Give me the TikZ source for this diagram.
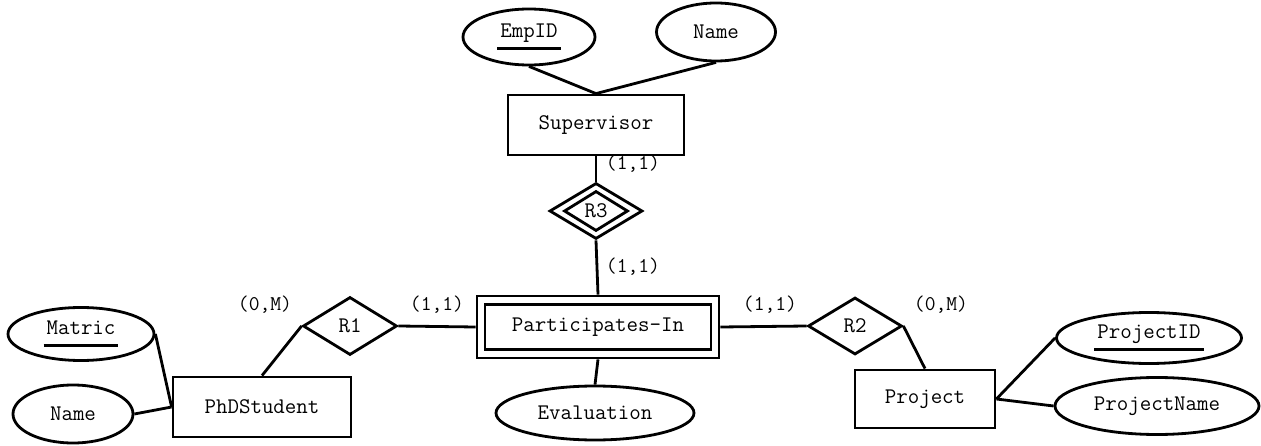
\documentclass[tikz,border=0pt]{standalone}
\usepackage{fontspec}
\usetikzlibrary{shapes.geometric}
\newcommand\keytext[1]{\setbox0\hbox{#1}\hbox{\kern3pt\rlap{\kern-3pt\raisebox{-12pt}{\rule{\dimexpr\wd0+6pt\relax}{2.5pt}}}\box0\kern3pt}}
\begin{document}
\begin{tikzpicture}[x=1pt,y=-1pt,line width=2.8pt,
  txt/.style={font=\ttfamily\addfontfeatures{FakeBold=0.8}\fontsize{22.3}{24}\selectfont},
  ent/.style={txt,draw,rectangle,inner sep=0pt},
  attr/.style={txt,draw,ellipse,inner sep=0pt},
  rel/.style={txt,draw,diamond,inner sep=0pt},
  card/.style={font=\ttfamily\addfontfeatures{FakeBold=0.5}\fontsize{21}{23}\selectfont,inner sep=0pt},
  conn/.style={line width=2.8pt}]
\useasboundingbox (0,0) rectangle (1261,446);
% entities
\node[ent,minimum width=176pt,minimum height=60pt] (Sup) at (596,125) {Supervisor};
\node[ent,minimum width=242pt,minimum height=62pt] (PI) at (598,327) {};
\node[ent,minimum width=226pt,minimum height=45pt] (PIin) at (598,327) {Participates-In};
\node[ent,minimum width=178pt,minimum height=60pt] (PhD) at (262,407) {PhDStudent};
\node[ent,minimum width=140pt,minimum height=58pt] (Proj) at (925,399) {Project};
% attributes
\node[attr,minimum width=132pt,minimum height=56pt] (EmpID) at (529,37) {\keytext{EmpID}};
\node[attr,minimum width=119pt,minimum height=58pt] (SName) at (716,32) {Name};
\node[attr,minimum width=198pt,minimum height=54pt] (Eval) at (595,413) {Evaluation};
\node[attr,minimum width=146pt,minimum height=53pt] (Matric) at (81,334) {\keytext{Matric}};
\node[attr,minimum width=120pt,minimum height=58pt] (LName) at (73,414) {Name};
\node[attr,minimum width=185pt,minimum height=51pt] (PID) at (1149,338) {\keytext{ProjectID}};
\node[attr,minimum width=204pt,minimum height=57pt] (PNm) at (1157,406) {ProjectName};
% relationships
\node[rel,minimum width=93pt,minimum height=56pt] (R3) at (596,211) {R3};
\node[draw,diamond,inner sep=0pt,minimum width=64pt,minimum height=40pt] (R3in) at (596,211) {};
\node[rel,minimum width=94pt,minimum height=58pt] (R1) at (350,326) {R1};
\node[rel,minimum width=94pt,minimum height=57pt] (R2) at (855,326) {R2};
% connectors
\draw[conn] (EmpID.south) -- (Sup.north);
\draw[conn] (SName.south) -- (Sup.north);
\draw[conn] (Sup.south) -- (R3.north);
\draw[conn] (R3.south) -- (PI.north);
\draw[conn] (PI.south) -- (Eval.north);
\draw[conn] (R1.east) -- (PI.west);
\draw[conn] (PI.east) -- (R2.west);
\draw[conn] (R1.west) -- (PhD.north);
\draw[conn] (R2.east) -- (Proj.north);
\draw[conn] (Matric.east) -- (PhD.west);
\draw[conn] (LName.east) -- (PhD.west);
\draw[conn] (Proj.east) -- (PID.west);
\draw[conn] (Proj.east) -- (PNm.west);
% cardinalities
\node[card] (c1) at (633,164) {(1,1)};
\node[card] (c2) at (633,267) {(1,1)};
\node[card] (c3) at (265,305) {(0,M)};
\node[card] (c4) at (437,305) {(1,1)};
\node[card] (c5) at (770,305) {(1,1)};
\node[card] (c6) at (941,305) {(0,M)};
\end{tikzpicture}
\end{document}
